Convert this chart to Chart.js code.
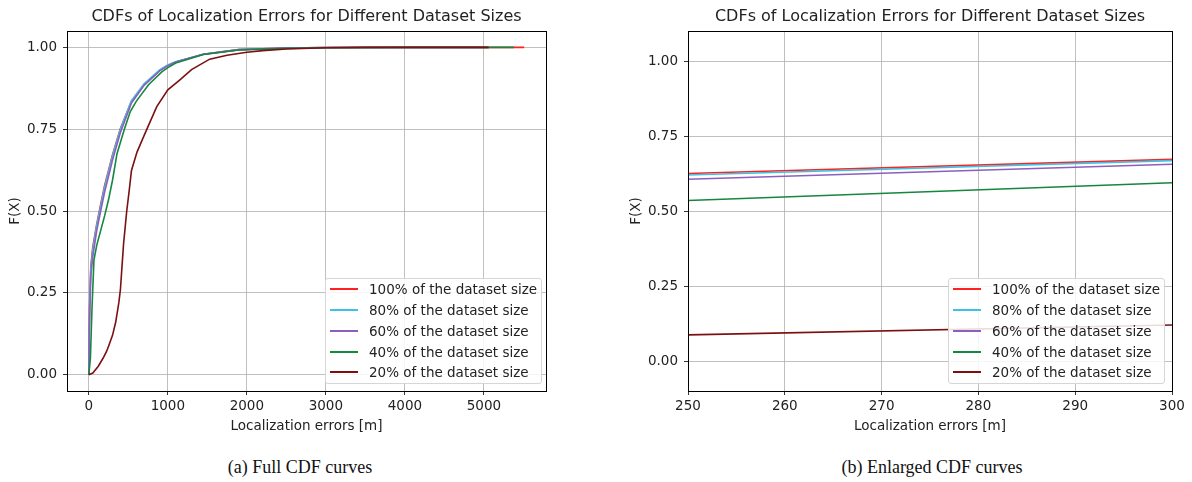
<!DOCTYPE html>
<html>
<head>
<meta charset="utf-8">
<script src="https://cdn.jsdelivr.net/npm/chart.js@4/dist/chart.umd.min.js"></script>
<style>
  body { margin: 0; background: #fff; width: 1192px; height: 482px; position: relative; overflow: hidden; font-family: "DejaVu Sans", sans-serif; }
  .box { position: absolute; top: 0; height: 440px; }
  .legend { position: absolute; background: rgba(255,255,255,0.85); border: 1px solid #d6d6d6; border-radius: 3px; padding: 0 4px 0 4px; }
  .legend ul { list-style: none; margin: 0; padding: 0; }
  .legend li { height: 20.75px; display: flex; align-items: center; font-size: 13.5px; color: #222; white-space: nowrap; }
  .legend li .swatch { display: inline-block; width: 28px; height: 2px; margin-right: 11px; }
  .caption { position: absolute; top: 456px; width: 400px; line-height: 22px; font-family: "Liberation Serif", serif; font-size: 18px; color: #111; text-align: center; }
</style>
</head>
<body>
<div class="box" style="left:0;width:560px"><canvas id="full"></canvas></div>
<div class="box" style="left:600px;width:592px"><canvas id="zoomed"></canvas></div>
<div class="legend" id="legendFull" style="left:325px;top:278px"></div>
<div class="legend" id="legendZoomed" style="left:948px;top:278px"></div>
<div class="caption" style="left:100px">(a) Full CDF curves</div>
<div class="caption" style="left:732px">(b) Enlarged CDF curves</div>
<script>
const seriesNames = ['100% of the dataset size', '80% of the dataset size', '60% of the dataset size', '40% of the dataset size', '20% of the dataset size'];
const seriesColors = ['#ff2020', '#3fc1e6', '#8c5fbf', '#15873f', '#7c1010'];
const chartTitle = 'CDFs of Localization Errors for Different Dataset Sizes';

// localization error [m] and F(X) for each dataset size
const err100 = [0, 8, 25, 50, 100, 150, 200, 250, 300, 400, 540, 700, 900, 1000, 1100, 1450, 1900, 2500, 3000, 4000, 5510];
const cdf100 = [0, 0.2, 0.33, 0.39, 0.46, 0.52, 0.578, 0.625, 0.672, 0.752, 0.836, 0.887, 0.93, 0.945, 0.955, 0.979, 0.993, 0.998, 0.9995, 1, 1];
const err80 = [0, 8, 25, 50, 100, 150, 200, 250, 300, 400, 540, 700, 900, 1000, 1100, 1450, 1900, 2500, 3000, 4000, 5060];
const cdf80 = [0, 0.18, 0.32, 0.38, 0.455, 0.515, 0.572, 0.62, 0.668, 0.75, 0.837, 0.889, 0.932, 0.946, 0.956, 0.979, 0.993, 0.998, 0.9995, 1, 1];
const err60 = [0, 8, 25, 50, 100, 150, 200, 250, 300, 400, 540, 700, 900, 1000, 1100, 1450, 1900, 2500, 3000, 4000, 5060];
const cdf60 = [0, 0.15, 0.3, 0.36, 0.44, 0.5, 0.558, 0.606, 0.656, 0.74, 0.83, 0.884, 0.929, 0.944, 0.955, 0.979, 0.993, 0.998, 0.9995, 1, 1];
const err40 = [0, 20, 40, 65, 100, 150, 200, 250, 300, 357, 450, 525, 600, 756, 924, 1000, 1100, 1450, 1900, 2500, 3000, 4000, 5380];
const cdf40 = [0, 0.05, 0.2, 0.35, 0.395, 0.44, 0.485, 0.535, 0.594, 0.675, 0.75, 0.804, 0.835, 0.886, 0.925, 0.938, 0.952, 0.978, 0.992, 0.997, 0.999, 1, 1];
const err20 = [0, 50, 118, 180, 223, 250, 300, 340, 380, 400, 420, 440, 460, 480, 510, 540, 610, 672, 735, 860, 1000, 1153, 1300, 1530, 1750, 2000, 2200, 2500, 3000, 3500, 5060];
const cdf20 = [0, 0.005, 0.025, 0.05, 0.07, 0.087, 0.12, 0.16, 0.22, 0.26, 0.33, 0.4, 0.45, 0.5, 0.56, 0.624, 0.68, 0.715, 0.75, 0.819, 0.87, 0.901, 0.932, 0.964, 0.976, 0.985, 0.99, 0.995, 0.999, 1, 1];

const fullXTicks = [0, 1000, 2000, 3000, 4000, 5000];
const zoomXTicks = [250, 260, 270, 280, 290, 300];
const yTicks = [0, 0.25, 0.5, 0.75, 1.0];

const errs = [err100, err80, err60, err40, err20];
const cdfs = [cdf100, cdf80, cdf60, cdf40, cdf20];

// black box round the plot area + title centred over it, like matplotlib
const frame = {
  id: 'frame',
  afterDraw(chart) {
    const { ctx, chartArea: a } = chart;
    ctx.save();
    ctx.strokeStyle = '#000';
    ctx.lineWidth = 1;
    ctx.strokeRect(Math.round(a.left) + 0.5, Math.round(a.top) + 0.5, Math.round(a.width), Math.round(a.height));
    ctx.fillStyle = '#222';
    ctx.font = '16px "DejaVu Sans"';
    ctx.textAlign = 'center';
    ctx.textBaseline = 'middle';
    ctx.fillText(chartTitle, (a.left + a.right) / 2, 17);
    ctx.restore();
  }
};

const buildDatasets = () => seriesNames.map((name, i) => ({
  label: name,
  data: errs[i].map((x, j) => ({ x: x, y: cdfs[i][j] })),
  borderColor: seriesColors[i],
  backgroundColor: seriesColors[i],
  borderWidth: 1.6,
  pointRadius: 0,
  tension: 0,
  order: 5 - i
}));

const tickFont = { family: 'DejaVu Sans', size: 13.5 };

const printCdfChart = (target, xRange, xTicks, yRange, yWidth, rightPad, yTitlePad) => {
  const context = target.getContext('2d');
  return new Chart(context, {
    type: 'line',
    data: { datasets: buildDatasets() },
    options: {
      responsive: true,
      maintainAspectRatio: false,
      animation: false,
      layout: { padding: { left: 0, right: rightPad, top: 31, bottom: 0 } },
      plugins: {
        legend: { display: false },
        tooltip: { enabled: false }
      },
      scales: {
        x: {
          type: 'linear',
          min: xRange[0],
          max: xRange[1],
          afterBuildTicks: (s) => { s.ticks = xTicks.map(v => ({ value: v })); },
          afterFit: (s) => { s.height = 49; },
          border: { display: false },
          grid: { color: '#b0b0b0', lineWidth: 0.8, tickColor: '#000', tickLength: 4 },
          ticks: { color: '#222', font: tickFont, padding: 3, maxRotation: 0, callback: v => String(v) },
          title: { display: true, text: 'Localization errors [m]', color: '#222', font: tickFont, padding: { top: 0, bottom: 5 } }
        },
        y: {
          min: yRange[0],
          max: yRange[1],
          afterBuildTicks: (s) => { s.ticks = yTicks.map(v => ({ value: v })); },
          afterFit: (s) => { s.width = yWidth; },
          border: { display: false },
          grid: { color: '#b0b0b0', lineWidth: 0.8, tickColor: '#000', tickLength: 4 },
          ticks: { color: '#222', font: tickFont, padding: 6, callback: v => v.toFixed(2) },
          title: { display: true, text: 'F(X)', color: '#222', font: tickFont, padding: { top: yTitlePad, bottom: 0 } }
        }
      }
    },
    plugins: [frame]
  });
};

const customLegend = (el) => {
  let ul = document.createElement('ul');
  seriesNames.forEach((label, index) => {
    ul.innerHTML += `<li><span class="swatch" style="background-color:${seriesColors[index]}"></span><span>${label}</span></li>`;
  });
  el.appendChild(ul);
};

printCdfChart(document.getElementById('full'), [-276, 5786], fullXTicks, [-0.05, 1.05], 67, 14, 7);
printCdfChart(document.getElementById('zoomed'), [250, 300], zoomXTicks, [-0.1, 1.1], 88, 20, 28);
customLegend(document.getElementById('legendFull'));
customLegend(document.getElementById('legendZoomed'));
</script>
</body>
</html>
